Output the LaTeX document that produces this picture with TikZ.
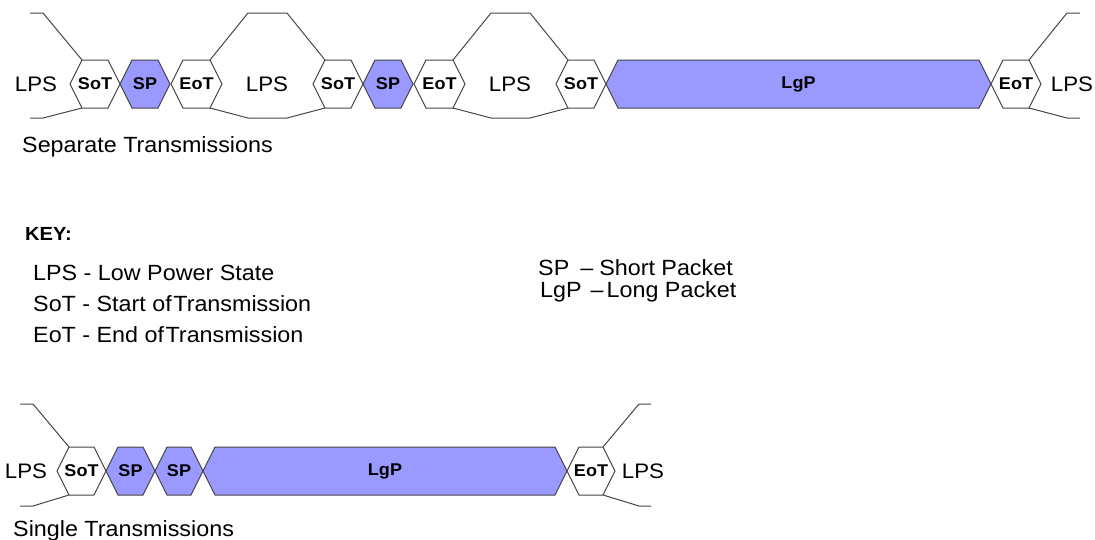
\documentclass[tikz,border=0pt]{standalone}
\usepackage{fontspec}
\setmainfont{Liberation Sans}[FakeStretch=1.06]
\usepackage{xcolor}
\usepackage{tikz}

\definecolor{pktblue}{HTML}{9999FF}
\definecolor{edgegray}{HTML}{464646}

\begin{document}
\begin{tikzpicture}[x=1pt, y=-1pt,
    hexline/.style={draw=edgegray, line width=1pt, line join=miter},
    lane/.style={draw=edgegray, line width=1pt},
    cell/.style={font=\fontsize{17}{17}\selectfont\bfseries, text=black, inner sep=0pt},
    lps/.style={font=\fontsize{21}{21}\selectfont, inner sep=0pt},
    caption/.style={font=\fontsize{22}{22}\selectfont, anchor=base west, inner sep=0pt},
    keyhead/.style={font=\fontsize{19}{19}\selectfont\bfseries, anchor=base west, inner sep=0pt}]
    \useasboundingbox (0,0) rectangle (1095,539);

    \foreach \nm/\xa/\xb/\yc/\fc/\txt in {
        sotA/70/120/84/white/SoT, spA/120/170/84/pktblue/SP, eotA/171/222/84/white/EoT,
        sotB/313/363/84/white/SoT, spB/363/413/84/pktblue/SP, eotB/414/465/84/white/EoT,
        sotC/556/606/84/white/SoT, lgpA/606/991/84/pktblue/LgP, eotC/991/1041/84/white/EoT,
        sotD/57/106/471/white/SoT, spD/106/155/471/pktblue/SP, spE/155/203/471/pktblue/SP,
        lgpB/203/567/471/pktblue/LgP, eotD/567/615/471/white/EoT}
    {
        \draw[hexline, fill=\fc] (\xa,\yc) -- (\xa+12,\yc-24) -- (\xb-12,\yc-24)
            -- (\xb,\yc) -- (\xb-12,\yc+24) -- (\xa+12,\yc+24) -- cycle;
        \coordinate (\nm-tl) at (\xa+12,\yc-24);
        \coordinate (\nm-tr) at (\xb-12,\yc-24);
        \coordinate (\nm-bl) at (\xa+12,\yc+24);
        \coordinate (\nm-br) at (\xb-12,\yc+24);
        \node[cell] (\nm) at ({(\xa+\xb)/2},\yc) {\txt};
    }

    % separate transmissions
    \draw[lane] (sotA-tl) -- ++(-39,-47) -- ++(-13,0);
    \draw[lane] (sotA-bl) -- ++(-39,10) -- ++(-13,0);
    \draw[lane] (eotA-tr) -- ++(38,-47) -- ++(39,0) -- (sotB-tl);
    \draw[lane] (eotA-br) -- ++(38,10) -- ++(39,0) -- (sotB-bl);
    \draw[lane] (eotB-tr) -- ++(38,-47) -- ++(39,0) -- (sotC-tl);
    \draw[lane] (eotB-br) -- ++(38,10) -- ++(39,0) -- (sotC-bl);
    \draw[lane] (eotC-tr) -- ++(38,-47) -- ++(13,0);
    \draw[lane] (eotC-br) -- ++(38,10) -- ++(13,0);

    \node[lps] (lpsA) at (36,84) {LPS};
    \node[lps] (lpsB) at (267,84) {LPS};
    \node[lps] (lpsC) at (510,84) {LPS};
    \node[lps] (lpsD) at (1072,84) {LPS};
    \node[caption] (sepcap) at (22,152) {Separate Transmissions};

    % key
    \node[keyhead] (keyhd) at (25,240) {KEY:};
    \node[caption] (keylps) at (33,280) {LPS - Low Power State};
    \node[caption] (keysot) at (33,311) {SoT - Start of\hspace{1.5pt}Transmission};
    \node[caption] (keyeot) at (33,342) {EoT - End of\hspace{1.5pt}Transmission};
    \node[caption] (keysp) at (538,275) {SP\hspace{11pt}--\hspace{6pt}Short Packet};
    \node[caption] (keylgp) at (540,297) {LgP\hspace{9pt}--\hspace{3pt}Long Packet};

    % single transmission
    \draw[lane] (sotD-tl) -- ++(-36,-43) -- ++(-13,0);
    \draw[lane] (sotD-bl) -- ++(-36,11) -- ++(-13,0);
    \draw[lane] (eotD-tr) -- ++(36,-43) -- ++(12,0);
    \draw[lane] (eotD-br) -- ++(36,11) -- ++(12,0);

    \node[lps] (lpsE) at (26,471) {LPS};
    \node[lps] (lpsF) at (643,471) {LPS};
    \node[caption] (singcap) at (13,536) {Single Transmissions};
\end{tikzpicture}
\end{document}
